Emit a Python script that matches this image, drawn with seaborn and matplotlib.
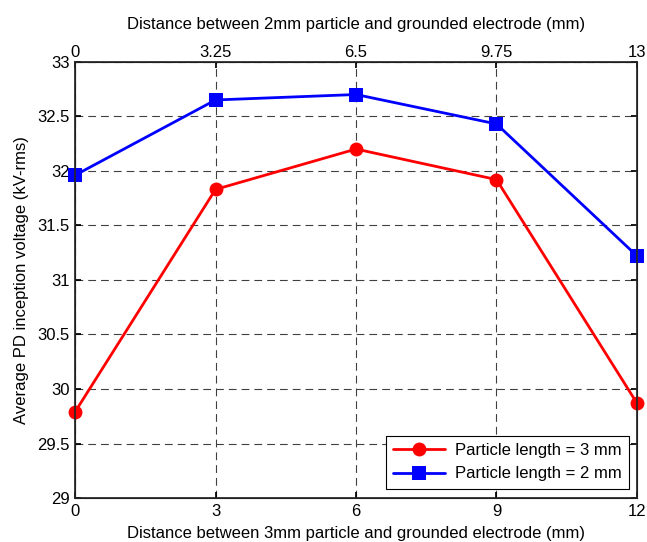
import matplotlib
matplotlib.use("Agg")
import matplotlib.pyplot as plt
import seaborn as sns
import pandas as pd

x_bottom = [0, 3, 6, 9, 12]
top_labels = ["0", "3.25", "6.5", "9.75", "13"]
red_vals = [29.79, 31.83, 32.20, 31.92, 29.87]
blue_vals = [31.96, 32.65, 32.70, 32.43, 31.22]
red_name = "Particle length = 3 mm"
blue_name = "Particle length = 2 mm"

sns.set_theme(style="white")
plt.rcParams['font.family'] = ['Liberation Sans', 'DejaVu Sans']
plt.rcParams['font.size'] = 12
plt.rcParams['axes.labelcolor'] = 'black'
plt.rcParams['text.color'] = 'black'

fig = plt.figure(figsize=(6.47, 5.42), dpi=100)
ax = fig.add_axes([0.116, 0.081, 0.8685, 0.805])

df = pd.DataFrame({
    "x": x_bottom * 2,
    "y": red_vals + blue_vals,
    "series": [red_name] * 5 + [blue_name] * 5,
})
sns.lineplot(data=df, x="x", y="y", hue="series", style="series",
             palette={red_name: "#ff0000", blue_name: "#0000ff"},
             markers={red_name: "o", blue_name: "s"},
             dashes=False, markersize=10, linewidth=2, ax=ax,
             markeredgewidth=0, clip_on=False, zorder=5)

ax.set_xlim(0, 12)
ax.set_ylim(29, 33)
ax.set_xticks(x_bottom)
ax.set_xticklabels([str(v) for v in x_bottom])
ax.set_yticks([29, 29.5, 30, 30.5, 31, 31.5, 32, 32.5, 33])
ax.set_yticklabels(["29", "29.5", "30", "30.5", "31", "31.5", "32", "32.5", "33"])
ax.grid(True, color="#404040", linestyle=(0, (7, 4.5)), linewidth=0.8)
ax.tick_params(direction="in", length=4, labelsize=12, colors="black", pad=4,
               top=False, right=True, left=True, bottom=True)
for s in ax.spines.values():
    s.set_color("black")
    s.set_linewidth(0.8)
ax.set_xlabel("Distance between 3mm particle and grounded electrode (mm)", fontsize=12,
              labelpad=5, color="black")
ax.set_ylabel("Average PD inception voltage (kV-rms)", fontsize=12, labelpad=6, color="black")

ax2 = ax.twiny()
ax2.set_xlim(0, 12)
ax2.set_xticks(x_bottom)
ax2.set_xticklabels(top_labels)
ax2.tick_params(direction="in", length=4, labelsize=12, colors="black", pad=1)
ax2.set_xlabel("Distance between 2mm particle and grounded electrode (mm)", fontsize=12,
               labelpad=12, color="black")

leg = ax.legend(loc="lower right", fontsize=12, frameon=True, fancybox=False,
                edgecolor="black", framealpha=1, borderpad=0.45,
                handlelength=3.1, handletextpad=0.6, labelspacing=0.5,
                borderaxespad=0, bbox_to_anchor=(0.986, 0.021))
leg.get_frame().set_linewidth(0.8)
leg.set_title(None)
leg.set_zorder(10)
for t in leg.get_texts():
    t.set_color("black")

fig.savefig("out.png", dpi=100, facecolor="white")
